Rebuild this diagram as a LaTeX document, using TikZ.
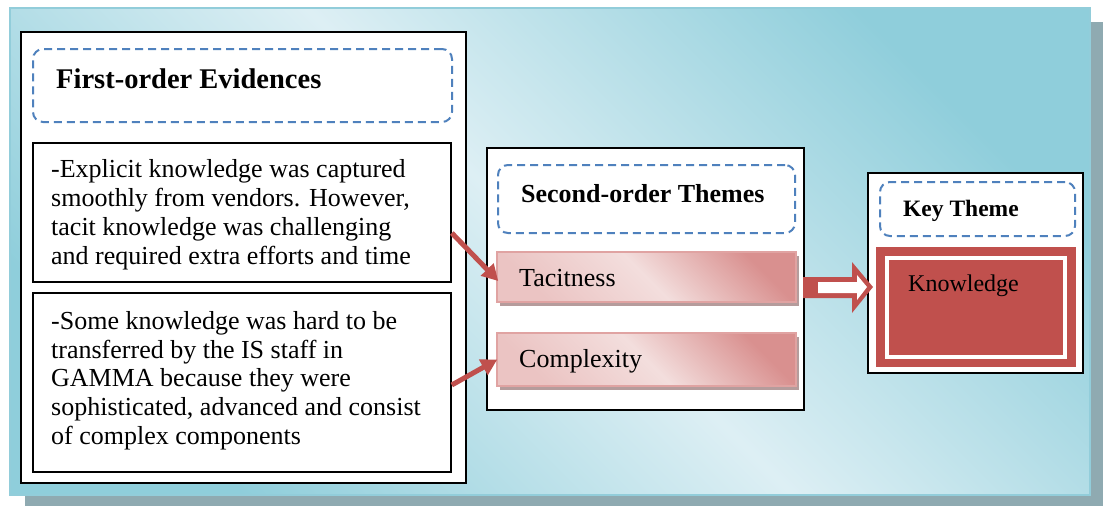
\documentclass[tikz,border=0pt]{standalone}
\usepackage{fontspec}
\setmainfont{Liberation Serif}
\usetikzlibrary{arrows.meta,shadows}
\definecolor{dashblue}{HTML}{4F81BD}
\definecolor{kred}{HTML}{C0504D}
\definecolor{bgdark}{HTML}{8FCEDB}
\definecolor{bglight}{HTML}{DDEFF4}
\definecolor{bgborder}{HTML}{92CDDA}
\definecolor{shadowgray}{HTML}{8FAAB1}
\definecolor{pinkdark}{HTML}{D9908F}
\definecolor{pinklight}{HTML}{F3DEDD}
\definecolor{pinkmid}{HTML}{EBC4C3}
\definecolor{pinkborder}{HTML}{E0A3A2}
\definecolor{pinkshadow}{HTML}{B59C9C}
\tikzset{
  frame/.style={draw=black, line width=1.6pt, fill=white, inner sep=0pt},
  dashbox/.style={draw=dashblue, line width=2pt, dash pattern=on 8pt off 5pt, rounded corners=10pt, fill=white, inner sep=0pt},
  themebox/.style={draw=pinkborder, line width=1.5pt, inner sep=0pt,
     top color=pinkdark, bottom color=pinkmid, middle color=pinklight, shading angle=-45,
     drop shadow={shadow xshift=3pt, shadow yshift=-4pt, fill=pinkshadow, opacity=1}},
  body/.style={font=\fontsize{26}{28.8}\selectfont, align=left, inner sep=0pt, anchor=north west},
  headA/.style={font=\fontsize{28.5}{30}\selectfont\bfseries, inner sep=0pt, anchor=base west},
  headB/.style={font=\fontsize{26}{28}\selectfont\bfseries, inner sep=0pt, anchor=base west},
  headC/.style={font=\fontsize{23.5}{25}\selectfont\bfseries, inner sep=0pt, anchor=base west},
  label/.style={font=\fontsize{26}{28}\selectfont, inner sep=0pt, anchor=base west},
  linkarrow/.style={draw=kred, line width=5pt, -{Triangle[length=16pt,width=17pt]}},
}
\begin{document}
\begin{tikzpicture}[x=1pt,y=-1pt]
\useasboundingbox (0,0) rectangle (1103,506);
% panel shadow and panel
\fill[shadowgray] (25,22) rectangle (1103,506);
\path[top color=bgdark, bottom color=bgdark, middle color=bglight, shading angle=-45] (10,8) rectangle (1090,495);
\draw[bgborder, line width=1.5pt] (10,8) rectangle (1090,495);

% left column
\node[frame, minimum width=445pt, minimum height=451pt] (left) at (243.5,257.5) {};
\node[dashbox, minimum width=419pt, minimum height=73pt] (dashA) at (242.5,85.5) {};
\node[headA] (tA) at (56,88) {First-order Evidences};
\node[frame, minimum width=418pt, minimum height=139pt] (box1) at (242,212.5) {};
\node[frame, minimum width=418pt, minimum height=179pt] (box2) at (242,382.5) {};
\node[body] (txt1) at (51,159.5) {-Explicit knowledge was captured\\smoothly from vendors. However,\\tacit knowledge was challenging\\and required extra efforts and time};
\node[body] (txt2) at (51,311) {-Some knowledge was hard to be\\transferred by the IS staff in\\GAMMA because they were\\sophisticated, advanced and consist\\of complex components};

% middle column
\node[frame, minimum width=317pt, minimum height=262pt] (mid) at (645.5,279) {};
\node[dashbox, minimum width=297pt, minimum height=68pt] (dashB) at (646.5,199) {};
\node[headB] (tB) at (521,202) {Second-order Themes};
\node[themebox, minimum width=299pt, minimum height=50pt] (tac) at (646.5,277) {};
\node[themebox, minimum width=299pt, minimum height=53pt] (comp) at (646.5,359.5) {};
\node[label] (tacT) at (519,286) {Tacitness};
\node[label] (compT) at (519,367) {Complexity};

% right column
\node[frame, minimum width=215pt, minimum height=200pt] (key) at (975.5,273) {};
\node[dashbox, minimum width=195pt, minimum height=54pt] (dashC) at (977.5,209) {};
\node[headC] (tC) at (903,216) {Key Theme};
\node[fill=kred, inner sep=0pt, minimum width=200pt, minimum height=120pt] (know) at (976,307) {};
\draw[white, line width=4pt] (887,258) rectangle (1065,357);
\node[font=\fontsize{24}{26}\selectfont, inner sep=0pt, anchor=base west] (knowT) at (908,291) {Knowledge};

% connectors
\draw[linkarrow] ([yshift=-20.5pt]box1.east) -- ([xshift=2pt,yshift=-4pt]tac.west);
\draw[linkarrow] ([yshift=-2.5pt]box2.east) -- ([xshift=1pt]comp.west);

% block arrow
\fill[kred] (803,277) -- (852,277) -- (852,262) -- (873,287) -- (852,313) -- (852,298) -- (803,298) -- cycle;
\fill[white] (818,282) -- (857,282) -- (857,275) -- (867,287) -- (857,300) -- (857,293) -- (818,293) -- cycle;
\end{tikzpicture}
\end{document}
